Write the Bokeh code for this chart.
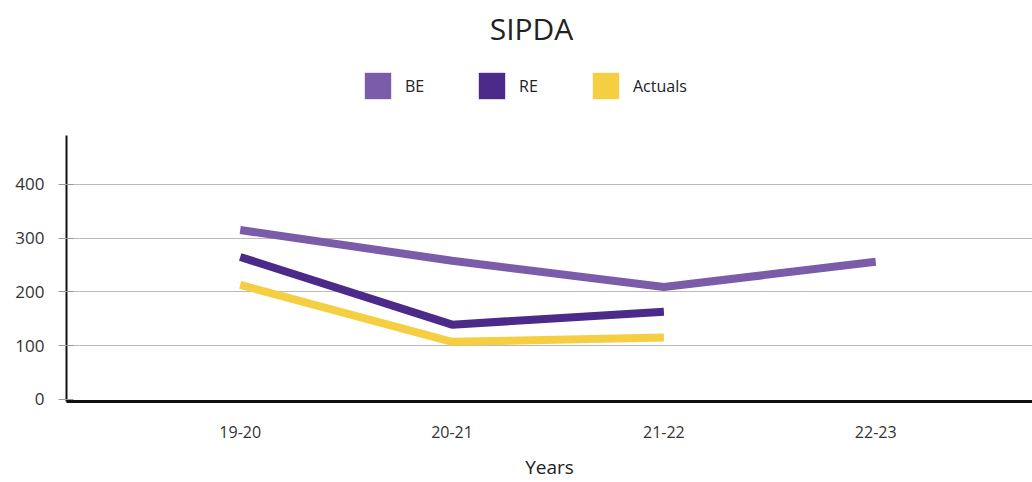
from bokeh.plotting import figure
from bokeh.models import Range1d, FixedTicker, Legend, LegendItem, Label
from bokeh.layouts import column
from bokeh.embed import file_html
from bokeh.resources import INLINE

# Financial years and series values
years = ["19-20", "20-21", "21-22", "22-23"]
be_values = [315, 258, 209, 256]
re_values = [265, 139, 163]
actual_values = [213, 107, 115]
y_ticks = [0, 100, 200, 300, 400]

series_colors = {"BE": "#7B5CA8", "RE": "#4B2A8A", "Actuals": "#F5CE42"}

FONT = "Open Sans"
x_pos = list(range(len(years)))

# ---- header: title and legend (frame is aligned with the chart frame, x 66..1032) ----
head = figure(
    width=1032, height=135,
    output_backend="svg", toolbar_location=None,
    x_range=Range1d(66, 1032), y_range=Range1d(135, 0),
    min_border_left=66, min_border_right=0, min_border_top=0, min_border_bottom=0,
)
head.axis.visible = False
head.grid.visible = False
head.outline_line_color = None

head.add_layout(Label(
    x=531, y=28, text="SIPDA",
    text_font=FONT, text_font_size="30px", text_color="#222222",
    text_align="center", text_baseline="middle",
))

items = []
for name in series_colors:
    # hidden zero-size quad, only its style is used by the legend swatch
    sw = head.quad(left=[0], right=[0], top=[0], bottom=[0],
                   fill_color=series_colors[name], line_color=None, visible=False)
    items.append(LegendItem(label=name, renderers=[sw]))

legend = Legend(
    items=items, orientation="horizontal", location=(295, 33),
    glyph_width=33, glyph_height=33, label_standoff=11, spacing=50,
    label_text_font=FONT, label_text_font_size="16px", label_text_color="#222222",
    border_line_color=None, background_fill_alpha=0,
    margin=0, padding=0,
)
head.add_layout(legend)

# ---- main chart ----
p = figure(
    width=1032, height=347,
    output_backend="svg", toolbar_location=None,
    x_range=Range1d(-0.82, 3.74), y_range=Range1d(-4, 491),
    min_border_left=66, min_border_right=0,
    min_border_top=0, min_border_bottom=80,
)
p.outline_line_color = None
p.background_fill_color = "white"

series = [("BE", be_values), ("RE", re_values), ("Actuals", actual_values)]
for name, vals in series:
    p.line(x_pos[:len(vals)], vals, line_color=series_colors[name], line_width=8)

# x axis
p.xaxis.ticker = FixedTicker(ticks=x_pos)
p.xaxis.major_label_overrides = {i: y for i, y in enumerate(years)}
p.xaxis.major_tick_line_color = None
p.xaxis.minor_tick_line_color = None
p.xaxis.axis_line_width = 3
p.xaxis.axis_line_color = "#111111"
p.xaxis.major_label_standoff = 18
p.xaxis.major_label_text_font = FONT
p.xaxis.major_label_text_font_size = "16px"
p.xaxis.major_label_text_color = "#333333"
p.xaxis.axis_label = "Years"
p.xaxis.axis_label_text_font = FONT
p.xaxis.axis_label_text_font_size = "19px"
p.xaxis.axis_label_text_font_style = "normal"
p.xaxis.axis_label_text_color = "#222222"
p.xaxis.axis_label_standoff = 13

# y axis
p.yaxis.ticker = FixedTicker(ticks=y_ticks)
p.yaxis.axis_line_width = 2
p.yaxis.axis_line_color = "#111111"
p.yaxis.major_tick_in = 7
p.yaxis.major_tick_out = 8
p.yaxis.major_tick_line_color = "#999999"
p.yaxis.minor_tick_line_color = None
p.yaxis.major_label_standoff = 14
p.yaxis.major_label_text_font = FONT
p.yaxis.major_label_text_font_size = "17px"
p.yaxis.major_label_text_color = "#333333"

p.xgrid.grid_line_color = None
p.ygrid.ticker = FixedTicker(ticks=y_ticks[1:])
p.ygrid.grid_line_color = "#BBBBBB"
p.ygrid.grid_line_width = 1

layout = column(head, p, spacing=0)
open("out.html", "w").write(file_html(layout, INLINE))
